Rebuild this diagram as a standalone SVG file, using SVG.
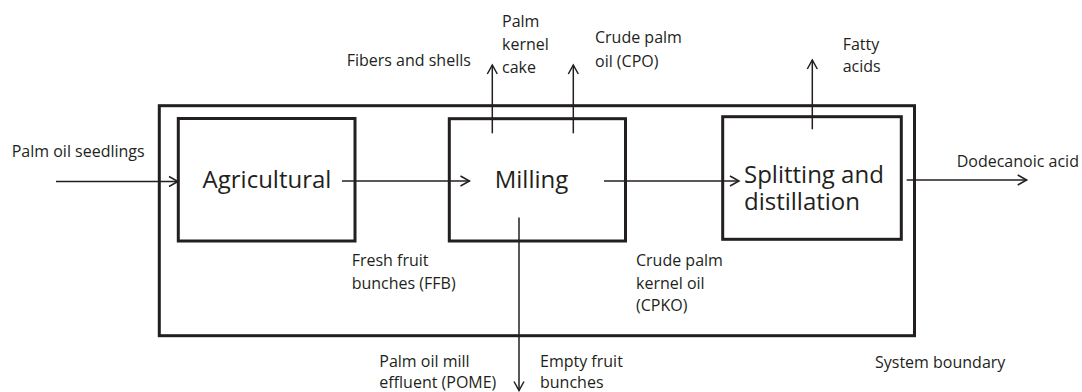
<svg xmlns="http://www.w3.org/2000/svg" width="1082" height="392" viewBox="0 0 1082 392">
  <style>
    .box { fill: none; stroke: #231f20; stroke-width: 3; }
    .flow { fill: none; stroke: #231f20; stroke-width: 1.5; marker-end: url(#arrow); }
    .lbl { font-family: "Open Sans", "Noto Sans", "Liberation Sans", sans-serif; font-size: 16px; fill: #231f20; }
    .big { font-family: "Open Sans", "Noto Sans", "Liberation Sans", sans-serif; font-size: 24px; fill: #231f20; }
  </style>
  <defs>
    <marker id="arrow" markerUnits="userSpaceOnUse" markerWidth="14" markerHeight="14" refX="11" refY="7" orient="auto">
      <path d="M2,2 L11,7 L2,12" fill="none" stroke="#231f20" stroke-width="1.5"/>
    </marker>
  </defs>
  <rect width="1082" height="392" fill="#ffffff"/>

  <g id="system-boundary">
    <rect class="box" x="159.3" y="105.7" width="755.2" height="230"/>
    <text class="lbl" x="875" y="368.3">System boundary</text>
  </g>

  <g id="node-agricultural">
    <rect class="box" x="178.3" y="118.5" width="176.7" height="122.5"/>
    <text class="big" x="267" y="188.3" text-anchor="middle">Agricultural</text>
  </g>

  <g id="node-milling">
    <rect class="box" x="449.3" y="118.7" width="176.2" height="122.3"/>
    <text class="big" x="531.5" y="187.7" text-anchor="middle">Milling</text>
  </g>

  <g id="node-splitting">
    <rect class="box" x="722.7" y="116.7" width="178.6" height="122.6"/>
    <text class="big"><tspan x="744" y="183.3">Splitting and</tspan><tspan x="744" y="210">distillation</tspan></text>
  </g>

  <g id="connectors">
    <line class="flow" x1="56" y1="181.5" x2="178" y2="181.5"/>
    <line class="flow" x1="342" y1="181" x2="469.5" y2="181"/>
    <line class="flow" x1="604" y1="181" x2="739" y2="181"/>
    <line class="flow" x1="906.7" y1="180" x2="1026.7" y2="180"/>
    <line class="flow" x1="492.3" y1="133.3" x2="492.3" y2="65"/>
    <line class="flow" x1="573.3" y1="133.3" x2="573.3" y2="65"/>
    <line class="flow" x1="812.3" y1="129.3" x2="812.3" y2="60"/>
    <line class="flow" x1="519" y1="217.5" x2="519" y2="390.5"/>
  </g>

  <g id="connector-labels">
    <text class="lbl" x="11.7" y="157.3">Palm oil seedlings</text>
    <text class="lbl" x="346.7" y="66">Fibers and shells</text>
    <text class="lbl" x="502" y="26.5">Palm</text>
    <text class="lbl" x="502" y="49.5">kernel</text>
    <text class="lbl" x="502" y="72.5">cake</text>
    <text class="lbl" x="595" y="43.3">Crude palm</text>
    <text class="lbl" x="595" y="66.7">oil (CPO)</text>
    <text class="lbl" x="842.7" y="50">Fatty</text>
    <text class="lbl" x="842.7" y="72">acids</text>
    <text class="lbl" x="956.7" y="166.7">Dodecanoic acid</text>
    <text class="lbl" x="351.7" y="266">Fresh fruit</text>
    <text class="lbl" x="351.7" y="288.5">bunches (FFB)</text>
    <text class="lbl" x="636" y="266">Crude palm</text>
    <text class="lbl" x="636" y="288.5">kernel oil</text>
    <text class="lbl" x="636" y="311">(CPKO)</text>
    <text class="lbl" x="379.3" y="366.5">Palm oil mill</text>
    <text class="lbl" x="379.3" y="387.5">effluent (POME)</text>
    <text class="lbl" x="540" y="366.5">Empty fruit</text>
    <text class="lbl" x="540" y="387.5">bunches</text>
  </g>
</svg>
